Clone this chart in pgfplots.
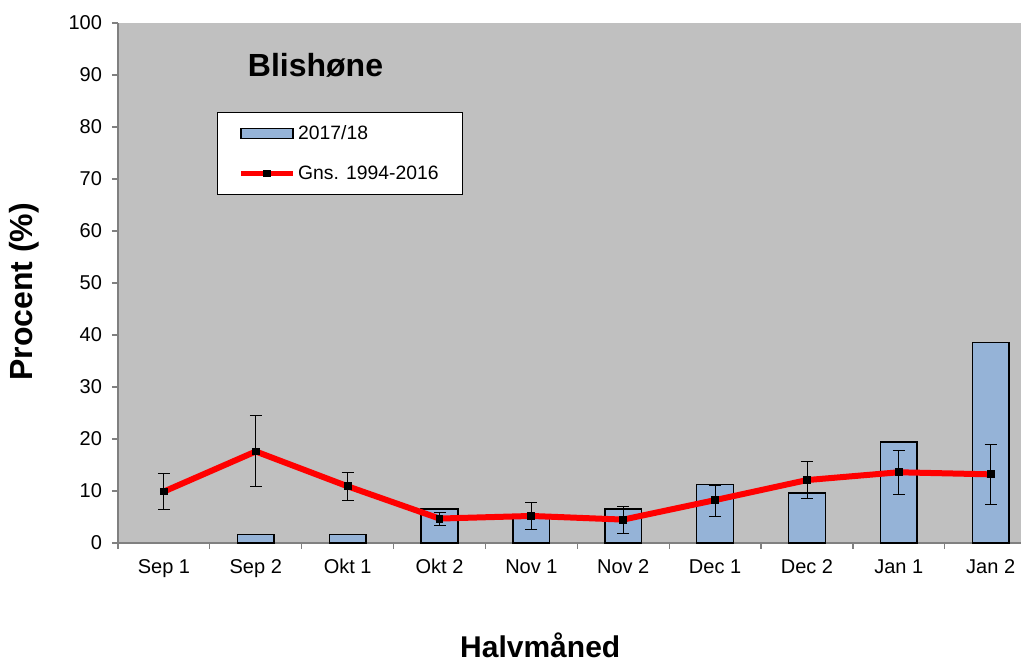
\documentclass[border=0pt]{standalone}
\usepackage{fontspec}
\setmainfont{Liberation Sans}
\usepackage{pgfplots}
\pgfplotsset{compat=1.18}
\usepackage{pgfplotstable}
\definecolor{barblue}{RGB}{149,179,215}
\definecolor{plotgray}{RGB}{192,192,192}
\definecolor{axisgray}{RGB}{128,128,128}

\pgfplotsset{
  linelegend/.style={legend image code/.code={\draw[##1, line width=3.5pt, mark repeat=2, mark phase=2, mark size=2.4pt] plot coordinates {(0pt,0pt) (19.5pt,0pt) (39pt,0pt)};}},
  barlegend/.style={legend image code/.code={\draw[fill=barblue,draw=black,line width=1.1pt] (0pt,-3.75pt) rectangle (39pt,3.75pt);}},
}

\pgfplotstableread{
x y
1 1.6
2 1.6
3 6.5
4 5.0
5 6.5
6 11.3
7 9.65
8 19.4
9 38.6
}\bars

\pgfplotstableread{
x y ep em
0 9.9 3.4 3.4
1 17.6 6.9 6.8
2 10.9 2.7 2.65
3 4.7 1.1 1.3
4 5.2 2.6 2.6
5 4.5 2.5 2.6
6 8.25 2.85 3.2
7 12.1 3.5 3.5
8 13.6 4.25 4.25
9 13.2 5.7 5.8
}\avg

\begin{document}
\begin{tikzpicture}
\begin{axis}[
  at={(0,0)}, anchor=south west,
  scale only axis,
  width=677.25pt, height=390pt,
  xmin=-0.5, xmax=9.33,
  ymin=0, ymax=100,
  axis background/.style={fill=plotgray},
  separate axis lines,
  axis x line*=bottom, axis y line*=left,
  axis line style={-, draw=axisgray, line width=1.1pt},
  tick align=outside,
  major tick length=4.5pt,
  minor tick length=4.5pt,
  tick style={axisgray, line width=0.9pt},
  ytick={0,10,...,100},
  xtick={0,...,9},
  xticklabels={Sep 1,Sep 2,Okt 1,Okt 2,Nov 1,Nov 2,Dec 1,Dec 2,Jan 1,Jan 2},
  every major x tick/.append style={draw=none},
  minor xtick={-0.5,0.5,...,9.5},
  tick label style={font=\fontsize{15}{18}\selectfont},
  /pgf/number format/assume math mode=true,
  xticklabel style={yshift=-4pt, text height=11pt, text depth=3pt},
  yticklabel style={xshift=-4pt},
  xlabel={Halvmåned},
  every axis x label/.style={at={([yshift=-86.25pt]axis description cs:0.4676,0)}, anchor=base, font=\fontsize{22.5}{27}\selectfont\bfseries},
  ylabel={Procent (\%)},
  every axis y label/.style={at={([xshift=-63.75pt]axis description cs:0,0.483)}, anchor=base, rotate=90, font=\fontsize{24}{28}\selectfont\bfseries},
  legend style={at={(0.1096,0.829)}, anchor=north west, draw=black, fill=white,
    line width=0.75pt, inner xsep=16pt, inner ysep=8pt, row sep=14pt,
    font=\fontsize{14.5}{17}\selectfont},
  legend cell align=left,
  clip=false,
]
\addplot[ybar, bar width=0.4, fill=barblue, draw=black, line width=1.1pt, barlegend]
  table[x=x,y=y]{\bars};
\addlegendentry{2017/18}
\addplot[red, line width=4.5pt, mark=square*, mark size=2.6pt,
  mark options={black, solid, line width=0pt}, linelegend,
  error bars/.cd, y dir=both, y explicit,
  error bar style={black, line width=0.7pt},
  error mark options={rotate=90, black, mark size=4.5pt, line width=0.7pt},
  ]
  table[x=x, y=y, y error plus=ep, y error minus=em]{\avg};
\addlegendentry{Gns. 1994-2016}
\node[anchor=base west, inner sep=0pt, font=\fontsize{24}{28}\selectfont\bfseries] at (axis description cs:0.1436,0.898) {Blishøne};
\end{axis}
\pgfresetboundingbox
\useasboundingbox (-88.5pt,-90pt) rectangle (677.25pt,407.25pt);
\end{tikzpicture}
\end{document}
